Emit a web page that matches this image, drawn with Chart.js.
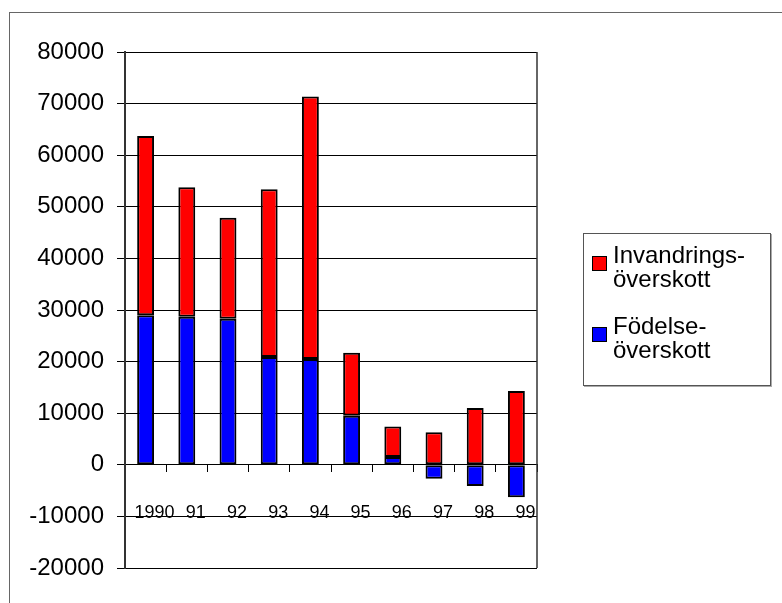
<!DOCTYPE html>
<html>
<head>
<meta charset="utf-8">
<script src="https://cdn.jsdelivr.net/npm/chart.js@4.4.1/dist/chart.umd.min.js"></script>
<style>
  body { margin: 0; background: #fff; }
  #wrap { position: relative; width: 782px; height: 603px; overflow: hidden; }
  #frame { position: absolute; left: 9px; top: 12px; width: 800px; height: 620px;
           border-left: 1px solid #666; border-top: 1px solid #666; }
  canvas { position: absolute; left: 0; top: 0; }
  #legend { position: absolute; left: 583px; top: 233px; width: 188px; height: 153px;
            box-sizing: border-box; border: 1px solid #555; box-shadow: 1px 1px 0 #aaa;
            padding-top: 9px; background: #fff;
            font: 24px "Liberation Sans", Arial, sans-serif; line-height: 24px; color: #000; }
  .item { position: relative; padding-left: 29px; margin-bottom: 23px; }
  .box { position: absolute; left: 8px; top: 13px; width: 15px; height: 15px;
         box-sizing: border-box; border: 1.5px solid #000; }
</style>
</head>
<body>
<div id="wrap">
  <div id="frame"></div>
  <canvas id="popChart" width="782" height="603"></canvas>
  <div id="legend"></div>
</div>
<script>
const years = ['1990', '91', '92', '93', '94', '95', '96', '97', '98', '99'];
const fodelseoverskott = [29000, 28700, 28300, 20900, 20500, 9500, 1500, -2700, -4100, -6300];
const invandringsoverskott = [34700, 25100, 19600, 32500, 50900, 12200, 5900, 6300, 11000, 14300];
const yTickValues = [-20000, -10000, 0, 10000, 20000, 30000, 40000, 50000, 60000, 70000, 80000];
const seriesNames = [['Födelse-', 'överskott'], ['Invandrings-', 'överskott']];

const fontFamily = '"Liberation Sans", Arial, sans-serif';

// right edge of the plot box
const plotFrame = {
    id: 'plotFrame',
    afterDraw(chart) {
        const { ctx, chartArea } = chart;
        ctx.save();
        ctx.strokeStyle = '#333';
        ctx.lineWidth = 1.5;
        ctx.beginPath();
        ctx.moveTo(chartArea.right, chartArea.top);
        ctx.lineTo(chartArea.right, chartArea.bottom);
        ctx.stroke();
        ctx.restore();
    }
};

// html legend, last dataset on top
const htmlLegend = {
    id: 'htmlLegend',
    afterUpdate(chart) {
        const el = document.getElementById('legend');
        el.innerHTML = '';
        chart.data.datasets.slice().reverse().forEach(ds => {
            const item = document.createElement('div');
            item.className = 'item';
            const box = document.createElement('span');
            box.className = 'box';
            box.style.background = ds.backgroundColor;
            item.appendChild(box);
            item.appendChild(document.createTextNode(ds.legendLines[0]));
            item.appendChild(document.createElement('br'));
            item.appendChild(document.createTextNode(ds.legendLines[1]));
            el.appendChild(item);
        });
    }
};

const ctx = document.getElementById('popChart').getContext('2d');
const popChart = new Chart(ctx, {
    type: 'bar',
    data: {
        labels: years,
        datasets: [{
            label: seriesNames[0].join(''),
            legendLines: seriesNames[0],
            data: fodelseoverskott,
            backgroundColor: '#0000ff',
            borderColor: '#000',
            borderWidth: 2,
            borderSkipped: false
        }, {
            label: seriesNames[1].join(''),
            legendLines: seriesNames[1],
            data: invandringsoverskott,
            backgroundColor: '#ff0000',
            borderColor: '#000',
            borderWidth: 2,
            borderSkipped: false
        }]
    },
    options: {
        responsive: false,
        animation: false,
        devicePixelRatio: 1,
        categoryPercentage: 1,
        barPercentage: 0.41,
        layout: { padding: { top: 52, bottom: 35, left: 0, right: 245 } },
        plugins: {
            legend: { display: false },
            tooltip: { enabled: false }
        },
        scales: {
            x: {
                stacked: true,
                position: { y: 0 },
                grid: { drawOnChartArea: false, drawTicks: true, tickLength: 7, color: '#000', offset: true },
                border: { display: true, color: '#000', width: 1 },
                ticks: {
                    color: '#000',
                    font: { family: fontFamily, size: 18 },
                    padding: 30,
                    labelOffset: 9,
                    maxRotation: 0,
                    autoSkip: false
                }
            },
            y: {
                stacked: true,
                min: yTickValues[0],
                max: yTickValues[yTickValues.length - 1],
                afterBuildTicks: scale => {
                    scale.ticks = yTickValues.map(v => ({ value: v }));
                },
                afterFit: scale => { scale.width = 125; },
                grid: { color: '#000', lineWidth: 1, tickLength: 8 },
                border: { display: true, color: '#333', width: 2 },
                ticks: {
                    color: '#000',
                    font: { family: fontFamily, size: 24 },
                    padding: 13,
                    callback: v => String(v)
                }
            }
        }
    },
    plugins: [plotFrame, htmlLegend]
});
</script>
</body>
</html>
